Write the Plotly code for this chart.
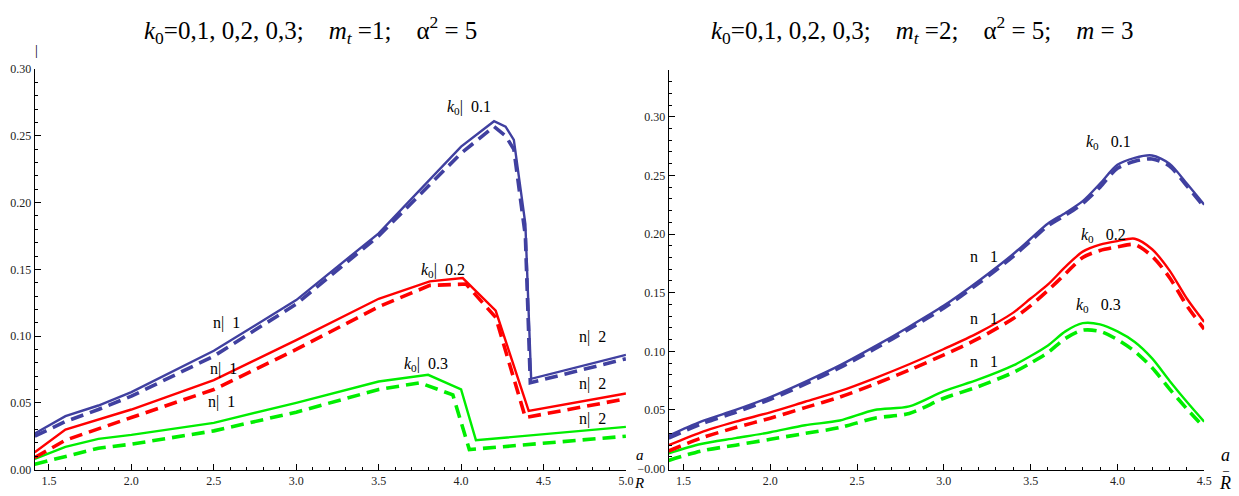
import plotly.graph_objects as go

# ---------------- data: left panel (m_t = 1) ----------------
L_blue_x  = [1.414, 1.6, 1.8, 2.0, 2.5, 3.0, 3.5, 4.0, 4.2, 4.27, 4.32, 4.36, 4.39, 4.425, 5.0]
L_blue_s  = [0.027, 0.040, 0.048, 0.058, 0.089, 0.127, 0.177, 0.242, 0.261, 0.257, 0.247, 0.213, 0.184, 0.068, 0.086]
L_blue_dx = [1.414, 1.6, 1.8, 2.0, 2.5, 3.0, 3.5, 4.0, 4.2, 4.27, 4.32, 4.36, 4.39, 4.42, 5.0]
L_blue_d  = [0.025, 0.036, 0.045, 0.055, 0.085, 0.124, 0.175, 0.237, 0.257, 0.250, 0.240, 0.205, 0.175, 0.065, 0.083]

L_red_x   = [1.414, 1.6, 2.0, 2.5, 3.0, 3.5, 3.81, 4.01, 4.21, 4.41, 5.0]
L_red_s   = [0.013, 0.030, 0.045, 0.067, 0.097, 0.128, 0.141, 0.1435, 0.119, 0.044, 0.057]
L_red_dx  = [1.414, 1.6, 2.0, 2.5, 3.0, 3.5, 3.81, 4.03, 4.21, 4.39, 5.0]
L_red_d   = [0.009, 0.022, 0.039, 0.060, 0.090, 0.122, 0.138, 0.139, 0.114, 0.039, 0.053]

L_grn_x   = [1.414, 1.6, 1.8, 2.0, 2.5, 3.0, 3.5, 3.8, 4.0, 4.09, 5.0]
L_grn_s   = [0.008, 0.017, 0.023, 0.026, 0.035, 0.050, 0.066, 0.071, 0.060, 0.022, 0.032]
L_grn_dx  = [1.414, 1.6, 1.8, 2.0, 2.5, 3.0, 3.5, 3.75, 3.95, 4.05, 5.0]
L_grn_d   = [0.004, 0.010, 0.016, 0.019, 0.029, 0.043, 0.060, 0.065, 0.056, 0.015, 0.025]

# ---------------- data: right panel (m_t = 2, m = 3) ----------------
R_x = [1.414, 1.6, 1.8, 2.0, 2.2, 2.4, 2.6, 2.8, 3.0, 3.2, 3.4, 3.5, 3.6, 3.7, 3.8, 3.9, 4.0, 4.1, 4.2, 4.3, 4.4, 4.5]
R_blue_s = [0.028, 0.040, 0.050, 0.061, 0.074, 0.088, 0.104, 0.121, 0.139, 0.160, 0.183, 0.196, 0.209, 0.218, 0.228, 0.243, 0.259, 0.265, 0.267, 0.260, 0.243, 0.225]
R_blue_d = [0.026, 0.038, 0.048, 0.059, 0.072, 0.086, 0.102, 0.119, 0.137, 0.158, 0.181, 0.194, 0.207, 0.216, 0.226, 0.240, 0.256, 0.262, 0.264, 0.258, 0.241, 0.223]
R_red_s  = [0.020, 0.031, 0.040, 0.048, 0.057, 0.066, 0.077, 0.089, 0.102, 0.116, 0.133, 0.145, 0.157, 0.172, 0.185, 0.191, 0.194, 0.196, 0.187, 0.169, 0.145, 0.125]
R_red_d  = [0.015, 0.026, 0.035, 0.043, 0.052, 0.061, 0.072, 0.084, 0.097, 0.111, 0.128, 0.139, 0.152, 0.166, 0.180, 0.186, 0.189, 0.191, 0.181, 0.163, 0.139, 0.119]
R_grn_s  = [0.013, 0.021, 0.026, 0.031, 0.037, 0.041, 0.050, 0.053, 0.066, 0.076, 0.088, 0.096, 0.105, 0.117, 0.124, 0.123, 0.117, 0.108, 0.094, 0.075, 0.057, 0.040]
R_grn_d  = [0.007, 0.015, 0.020, 0.025, 0.030, 0.035, 0.043, 0.047, 0.060, 0.070, 0.082, 0.090, 0.099, 0.111, 0.118, 0.117, 0.110, 0.100, 0.086, 0.068, 0.051, 0.035]

L_xticks = [1.5, 2.0, 2.5, 3.0, 3.5, 4.0, 4.5, 5.0]
R_xticks = [1.5, 2.0, 2.5, 3.0, 3.5, 4.0, 4.5]
L_yticks = [0.00, 0.05, 0.10, 0.15, 0.20, 0.25, 0.30]
R_yticks = [0.00, 0.05, 0.10, 0.15, 0.20, 0.25, 0.30]
R_yticktext = ["\u22120.00", "0.05", "0.10", "0.15", "0.20", "0.25", "0.30"]

BLUE = "rgb(64,64,160)"
RED = "rgb(255,0,0)"
GREEN = "rgb(0,238,0)"
SERIF = "Liberation Serif"

fig = go.Figure()

def add(x, y, color, dashed, xa, ya, shape):
    fig.add_trace(go.Scatter(
        x=x, y=y, mode="lines", xaxis=xa, yaxis=ya, showlegend=False,
        line=dict(color=color, width=3.6 if dashed else 2.4,
                  dash="13px,7px" if dashed else "solid",
                  shape=shape, smoothing=0.8 if shape == "spline" else None)))

for (x, y, c, d) in [(L_grn_x, L_grn_s, GREEN, False), (L_grn_dx, L_grn_d, GREEN, True),
                     (L_red_x, L_red_s, RED, False), (L_red_dx, L_red_d, RED, True),
                     (L_blue_x, L_blue_s, BLUE, False), (L_blue_dx, L_blue_d, BLUE, True)]:
    add(x, y, c, d, "x", "y", "linear")

for (y, c, d) in [(R_grn_s, GREEN, False), (R_grn_d, GREEN, True),
                  (R_red_s, RED, False), (R_red_d, RED, True),
                  (R_blue_s, BLUE, False), (R_blue_d, BLUE, True)]:
    add(R_x, y, c, d, "x2", "y2", "spline")

axis_common = dict(showgrid=False, zeroline=False, showline=True, linecolor="black", linewidth=1,
                   ticks="inside", ticklen=6, tickcolor="black", tickwidth=1,
                   tickfont=dict(family=SERIF, size=12, color="#222"))

fig.update_layout(
    width=1239, height=496, autosize=False,
    margin=dict(l=0, r=0, t=0, b=0),
    plot_bgcolor="white", paper_bgcolor="white",
    font=dict(family=SERIF, size=12, color="black"),
    xaxis=dict(domain=[35/1239, 630/1239], range=[1.414, 5.0], anchor="y",
               tickvals=L_xticks, tickformat=".1f",
               minor=dict(ticks="inside", dtick=0.1, tick0=0, ticklen=3, tickcolor="black"),
               **axis_common),
    yaxis=dict(domain=[20/496, 432/496], range=[0, 0.30], anchor="x",
               tickvals=L_yticks, tickformat=".2f",
               minor=dict(ticks="inside", dtick=0.01, tick0=0, ticklen=3, tickcolor="black"),
               **axis_common),
    xaxis2=dict(domain=[673/1239, 1212/1239], range=[1.414, 4.5], anchor="y2",
                tickvals=R_xticks, tickformat=".1f",
                minor=dict(ticks="inside", dtick=0.1, tick0=0, ticklen=3, tickcolor="black"),
                **axis_common),
    yaxis2=dict(domain=[20/496, 431/496], range=[-0.0008, 0.3397], anchor="x2",
                tickvals=R_yticks, ticktext=R_yticktext,
                minor=dict(ticks="inside", dtick=0.01, tick0=0, ticklen=3, tickcolor="black"),
                **axis_common),
)

def pann(text, px, py, size=15, xanchor="center"):
    fig.add_annotation(text=text, x=px/1239, y=1 - py/496, xref="paper", yref="paper",
                       showarrow=False, xanchor=xanchor, yanchor="middle",
                       font=dict(family=SERIF, size=size, color="black"))

def dann(text, x, y, xa, ya, size=16):
    fig.add_annotation(text=text, x=x, y=y, xref=xa, yref=ya, showarrow=False,
                       font=dict(family=SERIF, size=size, color="black"))

NB = "\u00a0"
pann("<i>k</i><sub>0</sub>=0,1, 0,2, 0,3;" + NB*4 + "<i>m<sub>t</sub></i>" + NB + "=1;" + NB*4 + "\u03b1<sup>2</sup> = 5", 313, 24, size=25)
pann("<i>k</i><sub>0</sub>=0,1, 0,2, 0,3;" + NB*4 + "<i>m<sub>t</sub></i>" + NB + "=2;" + NB*4 + "\u03b1<sup>2</sup> = 5;" + NB*4 + "<i>m</i> = 3", 928, 24, size=25)

# axis-label remnants
pann("|", 37, 45, size=14)
pann("<i>a</i>", 644, 461, size=15)
pann("<i>R</i>", 643, 490, size=15)
pann("<i>a</i>", 1233, 461, size=18)
pann("\u2013", 1234, 476, size=12)
pann("<i>R</i>", 1233, 490, size=18)

# curve labels left
dann("<i>k</i><sub>0</sub>|" + NB*2 + "0.1", 4.05, 0.271, "x", "y")
dann("<i>k</i><sub>0</sub>|" + NB*2 + "0.2", 3.89, 0.149, "x", "y")
dann("<i>k</i><sub>0</sub>|" + NB*2 + "0.3", 3.79, 0.079, "x", "y")
dann("n|" + NB*2 + "1", 2.58, 0.110, "x", "y")
dann("n|" + NB*2 + "1", 2.56, 0.075, "x", "y")
dann("n|" + NB*2 + "1", 2.545, 0.051, "x", "y")
dann("n|" + NB*2 + "2", 4.80, 0.099, "x", "y")
dann("n|" + NB*2 + "2", 4.80, 0.064, "x", "y")
dann("n|" + NB*2 + "2", 4.80, 0.038, "x", "y")

# curve labels right
dann("<i>k</i><sub>0</sub>" + NB*3 + "0.1", 3.95, 0.278, "x2", "y2")
dann("<i>k</i><sub>0</sub>" + NB*3 + "0.2", 3.92, 0.199, "x2", "y2")
dann("<i>k</i><sub>0</sub>" + NB*3 + "0.3", 3.89, 0.139, "x2", "y2")
dann("n" + NB*3 + "1", 3.23, 0.181, "x2", "y2")
dann("n" + NB*3 + "1", 3.23, 0.128, "x2", "y2")
dann("n" + NB*3 + "1", 3.23, 0.091, "x2", "y2")

fig.write_html("out.html")
